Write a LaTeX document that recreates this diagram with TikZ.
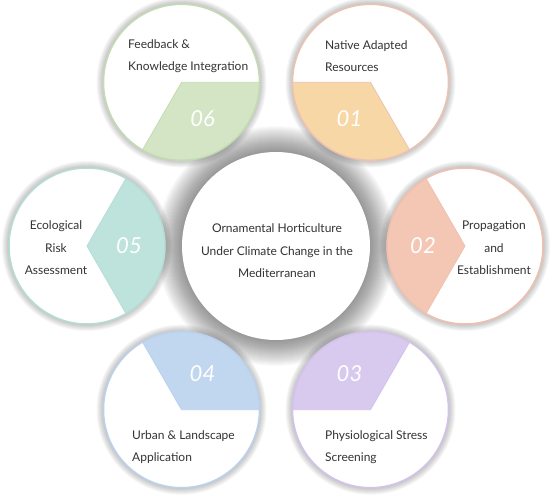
\documentclass[tikz,border=0pt]{standalone}
\usepackage{fontspec}
\setmainfont{Lato}
\definecolor{stepone}{HTML}{F7D7A6}
\definecolor{steptwo}{HTML}{F4C7B5}
\definecolor{stepthree}{HTML}{D8C9EE}
\definecolor{stepfour}{HTML}{C1D7EF}
\definecolor{stepfive}{HTML}{BDE3DC}
\definecolor{stepsix}{HTML}{D4E5C6}
\definecolor{lineone}{HTML}{EEC2B0}
\definecolor{linetwo}{HTML}{F0C0AE}
\definecolor{linethree}{HTML}{D3C2EC}
\definecolor{linefour}{HTML}{BAD2EE}
\definecolor{linefive}{HTML}{B4DDD5}
\definecolor{linesix}{HTML}{C4DCB1}
\definecolor{textgray}{HTML}{333333}
\tikzset{
  petaltext/.style={text=textgray,font=\fontsize{12}{22.5}\selectfont,inner sep=0pt},
  petalnum/.style={text=white,font=\fontsize{22}{22}\selectfont\itshape}
}
\begin{document}
\begin{tikzpicture}[x=1pt,y=1pt]
\useasboundingbox (0,0) rectangle (550,499);
\coordinate (hub) at (276,253);

\foreach \r in {0,...,26}
  \fill[black,opacity=0.019] (hub) circle[radius=94+\r];

\foreach \ang/\col/\bcol/\num in {60/stepone/lineone/01, 0/steptwo/linetwo/02,
    -60/stepthree/linethree/03, 240/stepfour/linefour/04,
    180/stepfive/linefive/05, 120/stepsix/linesix/06}{
  \coordinate (c\num) at ([shift={(\ang:189)}]hub);
  \foreach \r in {0,...,7}
    \fill[black,opacity=0.035] (c\num) circle[radius=78+\r];
  \fill[white] (c\num) circle[radius=78];
  \filldraw[fill=\col,draw=\bcol,line width=0.8pt] (c\num) -- ++(\ang+120:78)
    arc[start angle=\ang+120,end angle=\ang+240,radius=78] -- cycle;
  \draw[\bcol,line width=1.5pt] (c\num) circle[radius=78];
  \node[petalnum] (n\num) at ([shift={(\ang+180:42)}]c\num) {\num};
}

\fill[white] (hub) circle[radius=94];

\node[petaltext,anchor=west,align=left] (t01) at (325,443) {Native Adapted\\Resources};
\node[petaltext,align=center] (t02) at (494,251) {Propagation\\and\\Establishment};
\node[petaltext,anchor=west,align=left] (t03) at (325,52) {Physiological Stress\\Screening};
\node[petaltext,anchor=west,align=left] (t04) at (132,52) {Urban \& Landscape\\Application};
\node[petaltext,align=center] (t05) at (56,251) {Ecological\\Risk\\Assessment};
\node[petaltext,anchor=west,align=left] (t06) at (128,443) {Feedback \&\\Knowledge Integration};
\node[petaltext,align=center] (title) at (277,248) {Ornamental Horticulture\\Under Climate Change in the\\Mediterranean};
\end{tikzpicture}
\end{document}
